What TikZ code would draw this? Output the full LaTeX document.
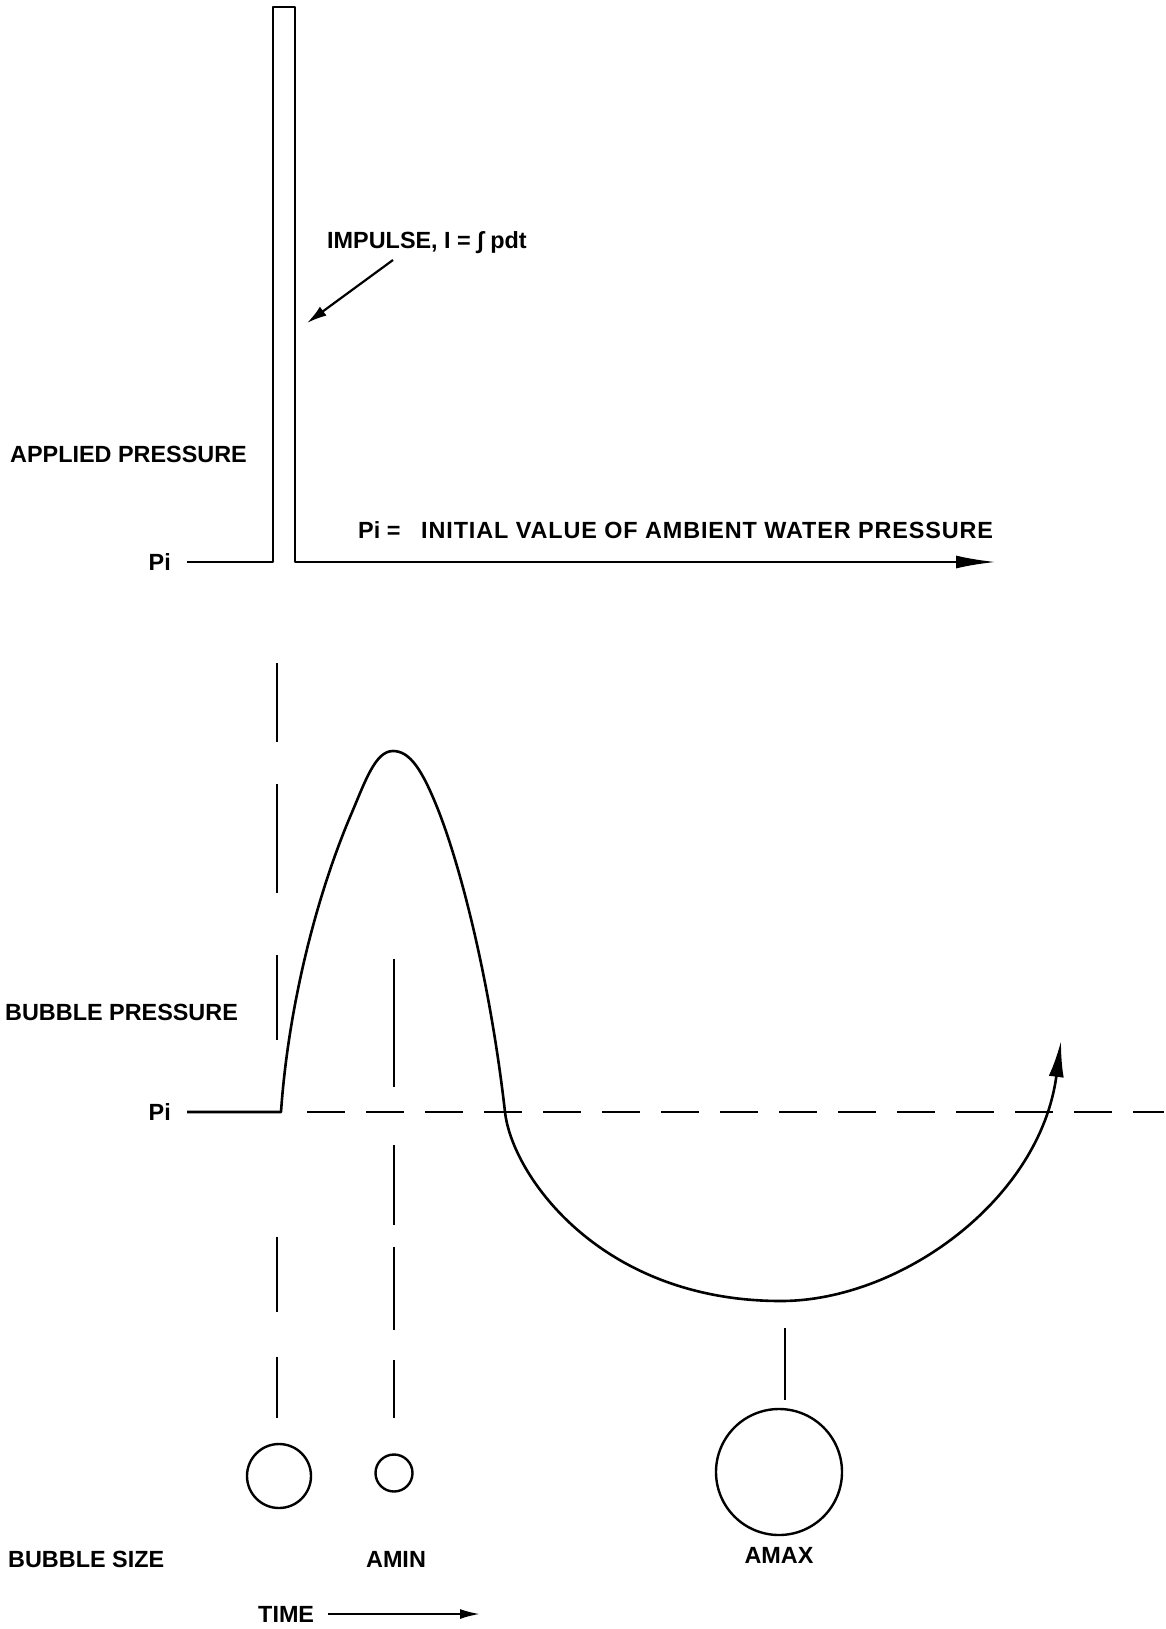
\documentclass[tikz,border=0pt]{standalone}
\usepackage{fontspec}
\setmainfont{Liberation Sans}
\usetikzlibrary{arrows.meta}

\begin{document}
\begin{tikzpicture}[x=1pt,y=-1pt]
\tikzset{lbl/.style={font=\bfseries\fontsize{23.4}{27}\selectfont,inner sep=0pt}}
\tikzset{trace/.style={line width=2.6pt,line join=round}}
\tikzset{guide/.style={line width=2.2pt}}
\tikzset{bubble/.style={circle,draw,line width=2.4pt,inner sep=0pt}}
\useasboundingbox (0,0) rectangle (1165,1629);

% applied pressure: impulse bar on the Pi axis
\node[lbl,anchor=west] (applied) at (10,454) {APPLIED PRESSURE};
\node[lbl,anchor=east] (piA) at (171,562) {Pi};
\draw[trace,-{Latex[length=40pt,width=13pt]}] (187,562) -- (273,562) -- (273,7) -- (295,7) -- (295,562) -- (996,562);
\node[lbl,anchor=west] (impulse) at (327,243) {IMPULSE, I = ∫ pdt};
\coordinate (impTail) at (393,260);
\coordinate (impTip) at (307,323);
\draw[guide,-{Latex[length=20pt,width=11pt]}] (impTail) -- (impTip);
\node[lbl,anchor=west] (piDef) at (358,530) {Pi =};
\node[lbl,anchor=west] (ambient) at (421,530) {\addfontfeature{LetterSpace=3.8}INITIAL VALUE OF AMBIENT WATER PRESSURE};

% bubble pressure
\node[lbl,anchor=west] (bubbleP) at (5,1012) {BUBBLE PRESSURE};
\node[lbl,anchor=east] (piB) at (171,1112) {Pi};
\draw[trace,dash pattern=on 38pt off 21pt] (307,1112) -- (1164,1112);
\draw[trace,-{Latex[length=36pt,width=15pt]}] (187,1112) -- (281,1112)
  .. controls (288,1010) and (315,900) .. (350,817)
  .. controls (365,782) and (375,751) .. (393,751)
  .. controls (410,751) and (422,770) .. (437,807)
  .. controls (460,864) and (490,980) .. (505,1112)
  .. controls (512,1175) and (600,1301) .. (781,1301)
  .. controls (900,1301) and (1040,1200) .. (1061,1041);

% time marks
\foreach \ya/\yb in {663/742,784/893,955/1040,1237/1312,1357/1418}
  \draw[guide] (277,\ya) -- (277,\yb);
\foreach \ya/\yb in {959/1087,1145/1225,1247/1330,1360/1418}
  \draw[guide] (394,\ya) -- (394,\yb);
\draw[guide] (785,1328) -- (785,1400);

% bubble size
\node[bubble,minimum size=64pt] (b0) at (279,1476) {};
\node[bubble,minimum size=37pt] (bmin) at (394,1473) {};
\node[bubble,minimum size=126pt] (bmax) at (779,1472) {};
\node[lbl,anchor=west] (bsize) at (8,1559) {BUBBLE SIZE};
\node[lbl] (amin) at (396,1559) {AMIN};
\node[lbl] (amax) at (779,1555) {AMAX};
\node[lbl,anchor=west] (time) at (258,1614) {TIME};
\coordinate (timeEnd) at (480,1614);
\draw[guide,-{Latex[length=20pt,width=10pt]}] ([xshift=14pt]time.east) -- (timeEnd);
\end{tikzpicture}
\end{document}
